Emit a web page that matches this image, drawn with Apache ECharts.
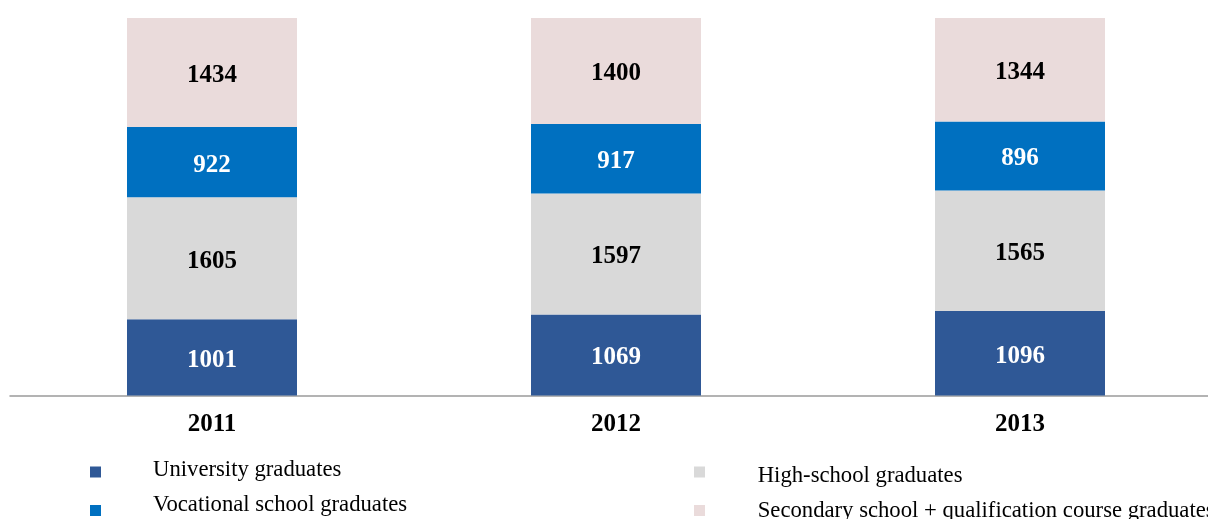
<!DOCTYPE html>
<html>
<head>
<meta charset="utf-8">
<script src="https://cdn.jsdelivr.net/npm/echarts@6/dist/echarts.min.js"></script>
<style>
  html, body { margin: 0; padding: 0; background: #ffffff; }
  #chart { width: 1208px; height: 519px; }
</style>
</head>
<body>
<div id="chart"></div>
<script>
// Graduates by type of school, 2011-2013 (100% stacked, labels show counts)
const years = ['2011', '2012', '2013'];
const university = [1001, 1069, 1096];
const vocational = [922, 917, 896];
const highSchool = [1605, 1597, 1565];
const secondaryQualification = [1434, 1400, 1344];

const seriesNames = [
  'University graduates',
  'High-school graduates',
  'Vocational school graduates',
  'Secondary school + qualification course graduates'
];
const seriesColors = ['#2F5896', '#D9D9D9', '#0070C0', '#EADBDB'];
const labelColors = ['#ffffff', '#000000', '#ffffff', '#000000'];
const seriesValues = [university, highSchool, vocational, secondaryQualification];

const totals = years.map((_, i) =>
  seriesValues.reduce((sum, arr) => sum + arr[i], 0));

const FONT = '"Liberation Serif", "DejaVu Serif", serif';

const series = seriesValues.map((arr, s) => ({
  name: seriesNames[s],
  type: 'bar',
  stack: 'total',
  barWidth: 170,
  itemStyle: { color: seriesColors[s] },
  label: {
    show: true,
    position: 'inside',
    offset: [0, 3],
    color: labelColors[s],
    fontFamily: FONT,
    fontWeight: 'bold',
    fontSize: 25,
    formatter: p => String(arr[p.dataIndex])
  },
  data: arr.map((v, i) => v / totals[i] * 100)
}));

// legend squares and legend names are placed separately so the
// names can sit at their own heights next to the squares
function legendSquare(name, left, top) {
  return {
    data: [name],
    left: left,
    top: top,
    padding: 0,
    icon: 'rect',
    itemWidth: 11,
    itemHeight: 11,
    selectedMode: false,
    formatter: () => ''
  };
}
function legendName(name, left, top) {
  return {
    data: [name],
    left: left,
    top: top,
    padding: 0,
    icon: 'none',
    itemWidth: 0,
    itemHeight: 11,
    selectedMode: false,
    textStyle: {
      fontFamily: FONT,
      fontSize: 22.7,
      lineHeight: 24,
      color: '#000000'
    }
  };
}

const chart = echarts.init(document.getElementById('chart'), null, { renderer: 'canvas' });
chart.setOption({
  animation: false,
  backgroundColor: '#ffffff',
  grid: { left: 10, width: 1212, top: 18, bottom: 123.5, outerBoundsMode: 'none' },
  xAxis: {
    type: 'category',
    data: years,
    axisLine: { show: true, lineStyle: { color: '#9a9a9a', width: 1.5 } },
    axisTick: { show: false },
    axisLabel: {
      margin: 17,
      color: '#000000',
      fontFamily: FONT,
      fontWeight: 'bold',
      fontSize: 25
    }
  },
  yAxis: {
    type: 'value',
    min: 0,
    max: 100,
    show: false,
    splitLine: { show: false }
  },
  legend: [
    legendSquare(seriesNames[0], 90, 466.5),
    legendSquare(seriesNames[2], 90, 505),
    legendSquare(seriesNames[1], 694, 466.5),
    legendSquare(seriesNames[3], 694, 505),
    legendName(seriesNames[0], 148, 458),
    legendName(seriesNames[2], 148, 493.5),
    legendName(seriesNames[1], 752.7, 464),
    legendName(seriesNames[3], 752.7, 499.5)
  ],
  series: series
});
</script>
</body>
</html>
